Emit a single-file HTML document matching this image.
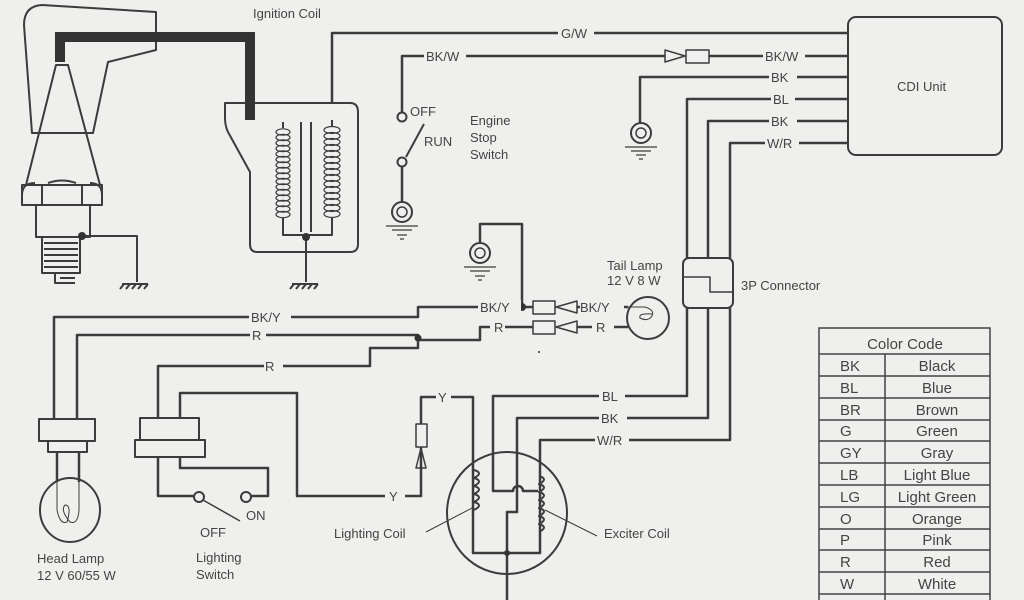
<!DOCTYPE html>
<html><head><meta charset="utf-8"><style>
html,body{margin:0;padding:0;background:#efefed;}
svg{display:block;}
text{font-family:"Liberation Sans",sans-serif;fill:#444;font-size:13px;}
</style></head><body>
<svg width="1024" height="600" viewBox="0 0 1024 600" xmlns="http://www.w3.org/2000/svg">
<rect width="1024" height="600" fill="#efefed"/>
<g fill="none" stroke="#3c3c3c" stroke-width="2" stroke-linejoin="round">
<!-- spark plug cap -->
<path d="M32,133 L24,25 Q24,6 42,5 L156,12 L156,50 L108,62 L93,133 Z"/>
<path d="M56,65 L68,65 L100,185 L26,185 Z"/>
<line x1="34" y1="133" x2="92" y2="133"/>
<path d="M22,185 L102,185 L102,205 L22,205 Z"/>
<path d="M22,195 Q22,183 35,183 M48,183 Q62,178 76,183 M90,183 Q102,183 102,195"/>
<line x1="42" y1="186" x2="42" y2="204"/><line x1="82" y1="186" x2="82" y2="204"/>
<rect x="36" y="205" width="54" height="32"/>
<rect x="42" y="237" width="38" height="36"/>
<path d="M44,243 H78 M44,249 H78 M44,255 H78 M44,261 H78 M44,267 H78"/>
<path d="M55,273 V283 H75 M60,278 H75"/>
<path d="M82,236 H137 V282"/>
<path d="M122,284 H148 M124,284 L120,289 M130,284 L126,289 M136,284 L132,289 M142,284 L138,289 M148,284 L144,289"/>
<!-- ignition coil -->
<path d="M225,103 H350 Q358,103 358,112 V244 Q358,252 350,252 H257 Q250,252 250,244 V172 L228,132 Q225,126 225,118 Z"/>
<path d="M283,122 V128 M283,218 V235 H332 V218 M332,120 V126"/>
<line x1="301" y1="122" x2="301" y2="232"/><line x1="311" y1="122" x2="311" y2="232"/>
</g>
<g fill="none" stroke="#3c3c3c" stroke-width="1.2">
<ellipse cx="283" cy="132" rx="7" ry="3.2"/><ellipse cx="283" cy="137.5" rx="7" ry="3.2"/><ellipse cx="283" cy="143" rx="7" ry="3.2"/><ellipse cx="283" cy="148.5" rx="7" ry="3.2"/><ellipse cx="283" cy="154" rx="7" ry="3.2"/><ellipse cx="283" cy="159.5" rx="7" ry="3.2"/><ellipse cx="283" cy="165" rx="7" ry="3.2"/><ellipse cx="283" cy="170.5" rx="7" ry="3.2"/><ellipse cx="283" cy="176" rx="7" ry="3.2"/><ellipse cx="283" cy="181.5" rx="7" ry="3.2"/><ellipse cx="283" cy="187" rx="7" ry="3.2"/><ellipse cx="283" cy="192.5" rx="7" ry="3.2"/><ellipse cx="283" cy="198" rx="7" ry="3.2"/><ellipse cx="283" cy="203.5" rx="7" ry="3.2"/><ellipse cx="283" cy="209" rx="7" ry="3.2"/><ellipse cx="283" cy="214.5" rx="7" ry="3.2"/>
<ellipse cx="332" cy="130" rx="8" ry="3.5"/><ellipse cx="332" cy="136" rx="8" ry="3.5"/><ellipse cx="332" cy="142" rx="8" ry="3.5"/><ellipse cx="332" cy="148" rx="8" ry="3.5"/><ellipse cx="332" cy="154" rx="8" ry="3.5"/><ellipse cx="332" cy="160" rx="8" ry="3.5"/><ellipse cx="332" cy="166" rx="8" ry="3.5"/><ellipse cx="332" cy="172" rx="8" ry="3.5"/><ellipse cx="332" cy="178" rx="8" ry="3.5"/><ellipse cx="332" cy="184" rx="8" ry="3.5"/><ellipse cx="332" cy="190" rx="8" ry="3.5"/><ellipse cx="332" cy="196" rx="8" ry="3.5"/><ellipse cx="332" cy="202" rx="8" ry="3.5"/><ellipse cx="332" cy="208" rx="8" ry="3.5"/><ellipse cx="332" cy="214" rx="8" ry="3.5"/>
</g>
<g fill="none" stroke="#3c3c3c" stroke-width="2">
<path d="M306,237 V282"/>
<path d="M292,284 H318 M294,284 L290,289 M300,284 L296,289 M306,284 L302,289 M312,284 L308,289 M318,284 L314,289"/>
</g>
<path d="M60,62 V37 H250 V120" fill="none" stroke="#333" stroke-width="10"/>
<circle cx="306" cy="237" r="4" fill="#333"/>
<circle cx="82" cy="236" r="4" fill="#333"/>
<g fill="none" stroke="#3c3c3c" stroke-width="2.5" stroke-linejoin="round">
<path d="M332,102 V33 H848"/>
<path d="M402,112 V56 H665 M709,56 H848"/>
<path d="M665,50 L685,56 L665,62 Z" stroke-width="1.5"/>
<rect x="686" y="50" width="23" height="13" stroke-width="1.5"/>
<circle cx="402" cy="117" r="4.5" stroke-width="2"/>
<circle cx="402" cy="162" r="4.5" stroke-width="2"/>
<line x1="424" y1="124" x2="406" y2="157" stroke-width="2"/>
<path d="M402,167 V203"/>
<circle cx="402" cy="212" r="10" stroke-width="2"/><circle cx="402" cy="212" r="5" stroke-width="1.5"/>
<path d="M386,226 H418 M392,230 H412 M397,235 H407 M400,239 H404" stroke-width="1.2"/>
<rect x="848" y="17" width="154" height="138" rx="8" stroke-width="2"/>
<path d="M848,77 H640 V124"/>
<circle cx="641" cy="133" r="10" stroke-width="2"/><circle cx="641" cy="133" r="5" stroke-width="1.5"/>
<path d="M625,147 H657 M631,151 H651 M636,155 H646 M639,159 H643" stroke-width="1.2"/>
<path d="M848,99 H687 V258 M848,121 H708 V258 M848,143 H730 V258"/>
<rect x="683" y="258" width="50" height="50" rx="6" stroke-width="2"/>
<path d="M683,277 H710 V292 H733" stroke-width="1.5"/>
<path d="M687,308 V396 H493 V491 H513 A5,5 0 0 1 523,491 H538"/>
<path d="M708,308 V418 H517 V512 H507 V553"/>
<path d="M730,308 V440 H540 V553 H473 V397 H437"/>
<ellipse cx="507" cy="513" rx="60" ry="61" stroke-width="2"/>
<path d="M507,553 V600"/>
<path d="M474,470 q10,3 0,8 q10,3 0,8 q10,3 0,8 q10,3 0,8 q10,3 0,8" stroke-width="2"/>
<path d="M539,476 q10,3 0,8 q10,3 0,8 q10,3 0,8 q10,3 0,8 q10,3 0,8 q10,3 0,8 q10,3 0,8" stroke-width="2"/>
<line x1="474" y1="507" x2="426" y2="532" stroke-width="1"/>
<line x1="545" y1="510" x2="597" y2="536" stroke-width="1"/>
<path d="M437,397 H421 V424 M421,447 V496 H405 M385,496 H297 V393 H180 V418"/>
<rect x="416" y="424" width="11" height="23" stroke-width="1.5"/>
<path d="M421,448 L416,468 L426,468 Z" stroke-width="1.5"/>
<rect x="140" y="418" width="59" height="22" stroke-width="2"/>
<rect x="135" y="440" width="70" height="17" stroke-width="2"/>
<path d="M158,418 V366 H265 M283,366 H370 V348 H418 V338"/>
<path d="M158,457 V496 H194 M180,457 V468 H268 V496 H251"/>
<circle cx="199" cy="497" r="5" stroke-width="2"/><circle cx="246" cy="497" r="5" stroke-width="2"/>
<line x1="203" y1="500" x2="240" y2="521" stroke-width="1.5"/>
<path d="M54,419 V317 H418 V307 H478 M77,419 V335 H418 V340 H480 V327 H490"/>
<rect x="39" y="419" width="56" height="22" stroke-width="2"/>
<rect x="48" y="441" width="39" height="11" stroke-width="2"/>
<path d="M57,452 V482 M79,452 V482"/>
<ellipse cx="70" cy="510" rx="30" ry="32" stroke-width="2"/>
<path d="M57,482 V510 Q60,525 67,522 Q72,505 65,505 Q60,510 70,522 Q78,525 79,510 V482" stroke-width="1"/>
<path d="M480,243 V224 H522 V307 H533 M505,327 H533"/>
<rect x="533" y="301" width="22" height="13" stroke-width="1.5"/>
<rect x="533" y="321" width="22" height="13" stroke-width="1.5"/>
<path d="M577,301 L556,307 L577,313 Z M577,321 L556,327 L577,333 Z" stroke-width="1.5"/>
<path d="M577,307 H580 M577,327 H592 M614,327 H628 M624,307 H628"/>
<circle cx="648" cy="318" r="21" stroke-width="2"/>
<path d="M628,307 H645 Q655,310 652,316 Q648,322 640,318 Q638,313 652,314" stroke-width="1"/>
<circle cx="480" cy="253" r="10" stroke-width="2"/><circle cx="480" cy="253" r="5" stroke-width="1.5"/>
<path d="M464,267 H496 M470,271 H490 M475,276 H485 M478,280 H482" stroke-width="1.2"/>
</g>
<circle cx="522" cy="307" r="4" fill="#333"/>
<circle cx="418" cy="338" r="3.5" fill="#333"/>
<circle cx="507" cy="553" r="3" fill="#333"/>
<circle cx="539" cy="352" r="1" fill="#333"/>
<g>
<rect x="558" y="26" width="36" height="14" fill="#efefed"/><text x="561" y="38">G/W</text>
<rect x="424" y="49" width="42" height="14" fill="#efefed"/><text x="426" y="61">BK/W</text>
<rect x="763" y="49" width="42" height="14" fill="#efefed"/><text x="765" y="61">BK/W</text>
<rect x="769" y="70" width="28" height="14" fill="#efefed"/><text x="771" y="82">BK</text>
<rect x="771" y="92" width="24" height="14" fill="#efefed"/><text x="773" y="104">BL</text>
<rect x="769" y="114" width="28" height="14" fill="#efefed"/><text x="771" y="126">BK</text>
<rect x="765" y="136" width="34" height="14" fill="#efefed"/><text x="767" y="148">W/R</text>
<rect x="599" y="389" width="26" height="14" fill="#efefed"/><text x="602" y="401">BL</text>
<rect x="599" y="411" width="28" height="14" fill="#efefed"/><text x="601" y="423">BK</text>
<rect x="595" y="433" width="34" height="14" fill="#efefed"/><text x="597" y="445">W/R</text>
<rect x="249" y="310" width="42" height="14" fill="#efefed"/><text x="251" y="322">BK/Y</text>
<rect x="250" y="328" width="16" height="14" fill="#efefed"/><text x="252" y="340">R</text>
<rect x="264" y="359" width="18" height="14" fill="#efefed"/><text x="265" y="371">R</text>
<rect x="478" y="300" width="43" height="14" fill="#efefed"/><text x="480" y="312">BK/Y</text>
<text x="494" y="332">R</text>
<text x="580" y="312">BK/Y</text>
<text x="596" y="332">R</text>
<rect x="436" y="390" width="15" height="14" fill="#efefed"/><text x="438" y="402">Y</text>
<rect x="387" y="489" width="16" height="14" fill="#efefed"/><text x="389" y="501">Y</text>
</g>
<text x="253" y="18">Ignition Coil</text>
<text x="410" y="116">OFF</text>
<text x="424" y="146">RUN</text>
<text x="470" y="125">Engine</text>
<text x="470" y="142">Stop</text>
<text x="470" y="159">Switch</text>
<text x="897" y="91">CDI Unit</text>
<text x="607" y="270">Tail Lamp</text>
<text x="607" y="285">12 V  8 W</text>
<text x="741" y="290">3P Connector</text>
<text x="37" y="563">Head Lamp</text>
<text x="37" y="580">12 V 60/55 W</text>
<text x="246" y="520">ON</text>
<text x="200" y="537">OFF</text>
<text x="196" y="562">Lighting</text>
<text x="196" y="579">Switch</text>
<text x="334" y="538">Lighting Coil</text>
<text x="604" y="538">Exciter Coil</text>
<g fill="none" stroke="#444" stroke-width="1.5">
<path d="M819,600 V328 H990 V600"/>
<path d="M885,354 V600"/>
<path d="M819,354 H990 M819,376 H990 M819,398 H990 M819,420 H990 M819,441 H990 M819,463 H990 M819,485 H990 M819,507 H990 M819,529 H990 M819,550 H990 M819,572 H990 M819,594 H990"/>
</g>
<g>
<text x="905" y="349" text-anchor="middle" style="font-size:15px">Color Code</text>
<text x="840" y="371" style="font-size:15px">BK</text><text x="937" y="371" text-anchor="middle" style="font-size:15px">Black</text>
<text x="840" y="393" style="font-size:15px">BL</text><text x="937" y="393" text-anchor="middle" style="font-size:15px">Blue</text>
<text x="840" y="415" style="font-size:15px">BR</text><text x="937" y="415" text-anchor="middle" style="font-size:15px">Brown</text>
<text x="840" y="436" style="font-size:15px">G</text><text x="937" y="436" text-anchor="middle" style="font-size:15px">Green</text>
<text x="840" y="458" style="font-size:15px">GY</text><text x="937" y="458" text-anchor="middle" style="font-size:15px">Gray</text>
<text x="840" y="480" style="font-size:15px">LB</text><text x="937" y="480" text-anchor="middle" style="font-size:15px">Light Blue</text>
<text x="840" y="502" style="font-size:15px">LG</text><text x="937" y="502" text-anchor="middle" style="font-size:15px">Light Green</text>
<text x="840" y="524" style="font-size:15px">O</text><text x="937" y="524" text-anchor="middle" style="font-size:15px">Orange</text>
<text x="840" y="545" style="font-size:15px">P</text><text x="937" y="545" text-anchor="middle" style="font-size:15px">Pink</text>
<text x="840" y="567" style="font-size:15px">R</text><text x="937" y="567" text-anchor="middle" style="font-size:15px">Red</text>
<text x="840" y="589" style="font-size:15px">W</text><text x="937" y="589" text-anchor="middle" style="font-size:15px">White</text>
<text x="840" y="611" style="font-size:15px">Y</text><text x="937" y="611" text-anchor="middle" style="font-size:15px">Yellow</text>
</g>
</svg>
</body></html>
